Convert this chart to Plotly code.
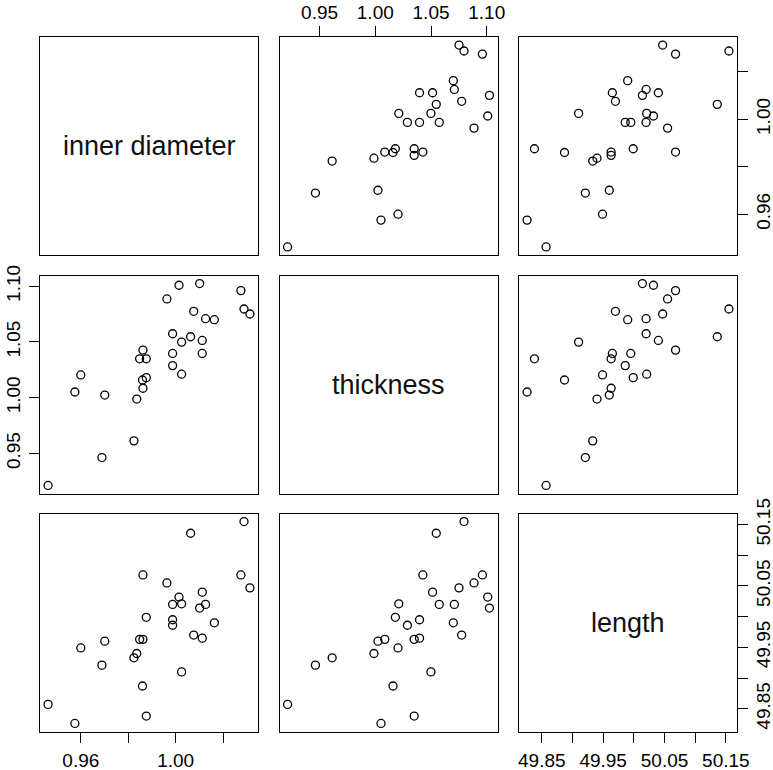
import plotly.graph_objects as go

inner_diameter = [0.9462, 0.9575, 0.9600, 0.9689, 0.9701, 0.9824, 0.9836, 0.9848, 0.9862, 0.9876,
                  0.9860, 0.9876, 0.9862, 0.9963, 1.0014, 1.0101, 0.9987, 0.9987, 0.9987, 1.0025,
                  1.0025, 1.0063, 1.0076, 1.0112, 1.0112, 1.0126, 1.0163, 1.0275, 1.0288, 1.0313]
thickness = [0.9213, 1.0051, 1.0204, 0.9463, 1.0024, 0.9613, 0.9988, 1.0349, 1.0427, 1.0349,
             1.0159, 1.0180, 1.0085, 1.0886, 1.1009, 1.1024, 1.0574, 1.0397, 1.0288, 1.0499,
             1.0211, 1.0547, 1.0775, 1.0514, 1.0397, 1.0709, 1.0700, 1.0961, 1.0796, 1.0751]
length = [49.857, 49.826, 49.949, 49.921, 49.960, 49.933, 49.940, 49.963, 50.068, 49.838,
          49.887, 49.999, 49.963, 50.055, 50.032, 50.014, 50.020, 49.995, 49.986, 49.910,
          50.021, 50.136, 49.970, 50.040, 49.965, 50.020, 49.990, 50.068, 50.155, 50.047]

var_names = ["inner diameter", "thickness", "length"]

d_tickvals = [0.96, 0.98, 1.00, 1.02]
d_ticktext = ["0.96", "", "1.00", ""]
t_tickvals = [0.95, 1.00, 1.05, 1.10]
t_ticktext = ["0.95", "1.00", "1.05", "1.10"]
L_tickvals = [49.85, 49.90, 49.95, 50.00, 50.05, 50.10, 50.15]
L_ticktext = ["49.85", "", "49.95", "", "50.05", "", "50.15"]

variables = [inner_diameter, thickness, length]
ticks = [(d_tickvals, d_ticktext), (t_tickvals, t_ticktext), (L_tickvals, L_ticktext)]

W, H = 773, 770
cols_px = [(40, 258), (279.5, 497.5), (519, 737)]
rows_px = [(37, 255), (275.5, 493.5), (513.5, 731.5)]


def rng(v):
    lo, hi = min(v), max(v)
    pad = (hi - lo) * 0.04
    return [lo - pad, hi + pad]


ranges = [rng(v) for v in variables]
font = dict(family="Liberation Sans, Arial, sans-serif", size=19, color="black")

fig = go.Figure()
layout = dict(width=W, height=H, margin=dict(l=0, r=0, t=0, b=0, pad=0, autoexpand=False),
              paper_bgcolor="white", plot_bgcolor="white", showlegend=False)
annotations = []

for r in range(3):
    for c in range(3):
        k = r * 3 + c + 1
        xname = "x" if k == 1 else f"x{k}"
        yname = "y" if k == 1 else f"y{k}"
        xd = [cols_px[c][0] / W, cols_px[c][1] / W]
        yd = [1 - rows_px[r][1] / H, 1 - rows_px[r][0] / H]
        xa = dict(domain=xd, range=ranges[c], anchor=yname, showgrid=False, zeroline=False,
                  showline=True, mirror=True, linecolor="black", linewidth=1.3,
                  ticks="", showticklabels=False, fixedrange=True, automargin=False)
        ya = dict(domain=yd, range=ranges[r], anchor=xname, showgrid=False, zeroline=False,
                  showline=True, mirror=True, linecolor="black", linewidth=1.3,
                  ticks="", showticklabels=False, fixedrange=True, automargin=False)
        tick_common = dict(ticks="outside", ticklen=10, tickwidth=1.3, tickcolor="black",
                           showticklabels=True, tickfont=font)
        if r == 0 and c == 1:
            xa.update(side="top", tickvals=ticks[c][0], ticktext=ticks[c][1],
                      ticklabelstandoff=-1, **tick_common)
        if r == 2 and c in (0, 2):
            xa.update(side="bottom", tickvals=ticks[c][0], ticktext=ticks[c][1],
                      ticklabelstandoff=2, **tick_common)
        if c == 0 and r == 1:
            ya.update(side="left", tickvals=ticks[r][0], ticktext=ticks[r][1],
                      tickangle=-90, ticklabelstandoff=1, **tick_common)
        if c == 2 and r in (0, 2):
            ya.update(side="right", tickvals=ticks[r][0], ticktext=ticks[r][1],
                      tickangle=-90, ticklabelstandoff=-1, **tick_common)
        layout["xaxis" if k == 1 else f"xaxis{k}"] = xa
        layout["yaxis" if k == 1 else f"yaxis{k}"] = ya

        if r == c:
            annotations.append(dict(text=var_names[r], xref="paper", yref="paper",
                                    x=(xd[0] + xd[1]) / 2, y=(yd[0] + yd[1]) / 2,
                                    showarrow=False, xanchor="center", yanchor="middle",
                                    font=dict(family="Liberation Sans, Arial, sans-serif",
                                              size=27, color="#111111")))
            fig.add_trace(go.Scatter(x=[], y=[], xaxis=xname, yaxis=yname, hoverinfo="skip"))
        else:
            fig.add_trace(go.Scatter(
                x=variables[c], y=variables[r], mode="markers", xaxis=xname, yaxis=yname,
                marker=dict(symbol="circle-open", size=8, color="black",
                            line=dict(width=1.3, color="black")),
                hoverinfo="skip"))

layout["annotations"] = annotations
fig.update_layout(**layout)
fig.write_html("out.html")
